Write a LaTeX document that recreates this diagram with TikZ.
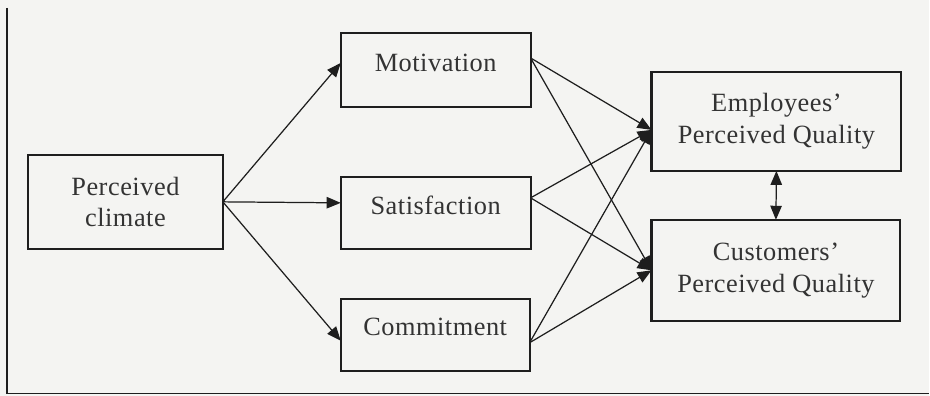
\documentclass[tikz,border=0pt]{standalone}
\usepackage{fontspec}
\setmainfont{Liberation Serif}[LetterSpace=2]
\usetikzlibrary{arrows.meta}
\definecolor{paper}{HTML}{F4F4F2}
\definecolor{ink}{HTML}{1E1E1E}
\definecolor{txt}{HTML}{333333}

\begin{document}
\begin{tikzpicture}[
  box/.style={draw=ink, line width=1.2pt, inner sep=0pt, outer sep=0pt,
    align=center, text=txt, font=\fontsize{15}{18}\selectfont},
  lift/.style={text depth=0.3cm},
  link/.style={draw=ink, line width=0.7pt, -{Triangle[length=8pt,width=6.5pt]}}
]
\fill[paper] (0,0) rectangle (18.6,-7.92);
\draw[ink, line width=0.8pt] (0.14,-0.16) -- (0.14,-7.88) -- (18.6,-7.88);

\node[box, minimum width=3.9cm, minimum height=1.88cm] (clim) at (2.51,-4.04) {Perceived\\climate};
\node[box, lift, minimum width=3.8cm, minimum height=1.48cm] (mot) at (8.72,-1.40) {Motivation};
\node[box, lift, minimum width=3.8cm, minimum height=1.44cm] (sat) at (8.72,-4.26) {Satisfaction};
\node[box, lift, minimum width=3.78cm, minimum height=1.44cm] (com) at (8.71,-6.70) {Commitment};
\node[box, minimum width=5.0cm, minimum height=1.98cm] (emp) at (15.54,-2.43) {Employees'\\Perceived Quality};
\node[box, minimum width=4.98cm, minimum height=2.02cm] (cus) at (15.53,-5.41) {Customers'\\Perceived Quality};

\draw[link] (clim.east) -- ([yshift=0.14cm]mot.west);
\draw[link] (clim.east) -- ([yshift=0.2cm]sat.west);
\draw[link] (clim.east) -- ([yshift=-0.12cm]com.west);

\draw[link] ([yshift=0.24cm]mot.east) -- ([yshift=-0.17cm]emp.west);
\draw[link] ([yshift=0.24cm]mot.east) -- (cus.west);
\draw[link] ([yshift=0.3cm]sat.east) -- ([yshift=-0.17cm]emp.west);
\draw[link] ([yshift=0.3cm]sat.east) -- (cus.west);
\draw[link] ([yshift=-0.16cm]com.east) -- ([yshift=-0.17cm]emp.west);
\draw[link] ([yshift=-0.16cm]com.east) -- (cus.west);

\draw[link, {Triangle[length=8pt,width=6.5pt]}-{Triangle[length=8pt,width=6.5pt]}] (emp.south) -- (cus.north);
\end{tikzpicture}
\end{document}
